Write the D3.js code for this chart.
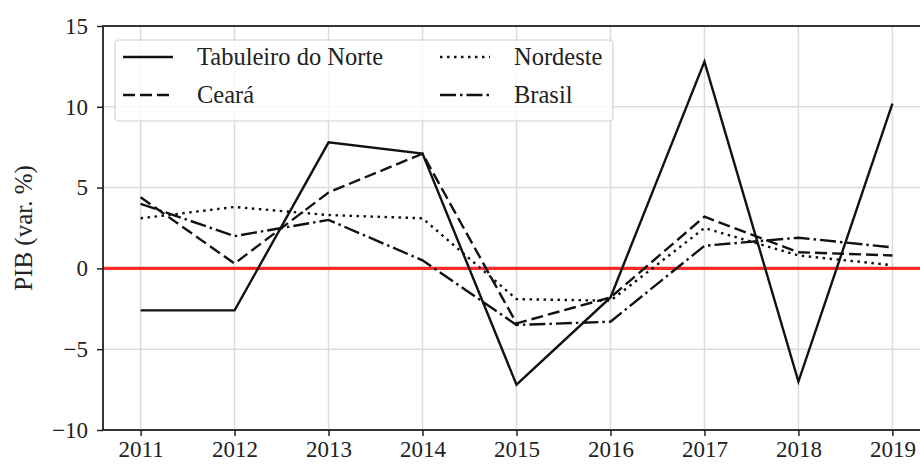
<!DOCTYPE html>
<html>
<head>
<meta charset="utf-8">
<script src="https://cdn.jsdelivr.net/npm/d3@7"></script>
<style>
  body { margin: 0; background: #fff; }
  svg { display: block; font-family: "Liberation Serif", "DejaVu Serif", serif; }
</style>
</head>
<body>
<div id="canvasplot"></div>
<script>
var years     = [2011, 2012, 2013, 2014, 2015, 2016, 2017, 2018, 2019];
var tabuleiro = [-2.6, -2.6, 7.8, 7.1, -7.2, -1.8, 12.8, -7.0, 10.2];
var ceara     = [4.4, 0.3, 4.7, 7.1, -3.4, -1.8, 3.2, 1.0, 0.8];
var nordeste  = [3.1, 3.8, 3.3, 3.1, -1.9, -2.0, 2.5, 0.8, 0.2];
var brasil    = [4.0, 2.0, 3.0, 0.5, -3.5, -3.3, 1.4, 1.9, 1.3];
var yticks    = [-10, -5, 0, 5, 10, 15];

var series = [
  {name: "Tabuleiro do Norte", values: tabuleiro, dash: null},
  {name: "Ceará", values: ceara, dash: "12,5"},
  {name: "Nordeste", values: nordeste, dash: "2.5,4.5"},
  {name: "Brasil", values: brasil, dash: "16,4,2.5,4"}
];

var width = 920, height = 464,
    plot = {left: 103, top: 26, right: 930, bottom: 430};

var svg = d3.select("#canvasplot").append("svg")
  .attr("width", width)
  .attr("height", height);

var Xscale = d3.scaleLinear()
  .domain([2010.6, 2019.4])
  .range([plot.left, plot.right]);

var Yscale = d3.scaleLinear()
  .domain([-10, 15])
  .range([plot.bottom, plot.top]);

// grid
svg.append("g").selectAll("line.gx")
  .data(years).enter().append("line")
  .attr("x1", function(d){ return Xscale(d); })
  .attr("x2", function(d){ return Xscale(d); })
  .attr("y1", plot.top).attr("y2", plot.bottom)
  .style("stroke", "#dcdcdc").style("stroke-width", 1.5);

svg.append("g").selectAll("line.gy")
  .data(yticks).enter().append("line")
  .attr("y1", function(d){ return Yscale(d); })
  .attr("y2", function(d){ return Yscale(d); })
  .attr("x1", plot.left).attr("x2", plot.right)
  .style("stroke", "#dcdcdc").style("stroke-width", 1.5);

// zero line
svg.append("line")
  .attr("x1", plot.left).attr("x2", plot.right)
  .attr("y1", Yscale(0)).attr("y2", Yscale(0))
  .style("stroke", "#ff2a2a").style("stroke-width", 3.2);

// series
var line = d3.line()
  .x(function(d, i){ return Xscale(years[i]); })
  .y(function(d){ return Yscale(d); });

series.forEach(function(s){
  svg.append("path")
    .datum(s.values)
    .attr("d", line)
    .style("fill", "none")
    .style("stroke", "#111")
    .style("stroke-width", 2.4)
    .style("stroke-dasharray", s.dash);
});

// spines
svg.append("rect")
  .attr("x", plot.left).attr("y", plot.top)
  .attr("width", plot.right - plot.left)
  .attr("height", plot.bottom - plot.top)
  .style("fill", "none").style("stroke", "#222").style("stroke-width", 1.8);

// axes
var axisX = svg.append("g")
  .attr("transform", "translate(0," + plot.bottom + ")")
  .call(d3.axisBottom(Xscale).tickValues(years).tickFormat(d3.format("d")).tickSizeOuter(0).tickSize(6).tickPadding(5));

var axisY = svg.append("g")
  .attr("transform", "translate(" + plot.left + ",0)")
  .call(d3.axisLeft(Yscale).tickValues(yticks).tickFormat(function(d){ return d < 0 ? "\u2212" + Math.abs(d) : d; }).tickSizeOuter(0).tickSize(6).tickPadding(9));

[axisX, axisY].forEach(function(a){
  a.select(".domain").remove();
  a.selectAll(".tick line").style("stroke", "#222").style("stroke-width", 1.5);
  a.selectAll(".tick text")
    .style("font-family", "Liberation Serif")
    .style("font-size", "23px")
    .style("fill", "#222");
});

// y label
svg.append("text")
  .attr("transform", "translate(32," + (plot.top + plot.bottom) / 2 + ") rotate(-90)")
  .style("text-anchor", "middle")
  .style("font-size", "25px")
  .style("fill", "#222")
  .text("PIB (var. %)");

// legend
var legend = svg.append("g");
legend.append("rect")
  .attr("x", 115).attr("y", 40)
  .attr("width", 498).attr("height", 81)
  .attr("rx", 4)
  .style("fill", "rgba(255,255,255,0.8)")
  .style("stroke", "#d0d0d0").style("stroke-width", 1.2);

var legPos = [[123, 57], [123, 95], [440, 57], [440, 95]];
series.forEach(function(s, i){
  var p = legPos[i];
  legend.append("line")
    .attr("x1", p[0]).attr("x2", p[0] + 50)
    .attr("y1", p[1]).attr("y2", p[1])
    .style("stroke", "#111").style("stroke-width", 2.4)
    .style("stroke-dasharray", s.dash);
  legend.append("text")
    .attr("x", p[0] + 74).attr("y", p[1] + 8)
    .style("font-size", "24.5px")
    .style("fill", "#222")
    .text(s.name);
});
</script>
</body>
</html>
